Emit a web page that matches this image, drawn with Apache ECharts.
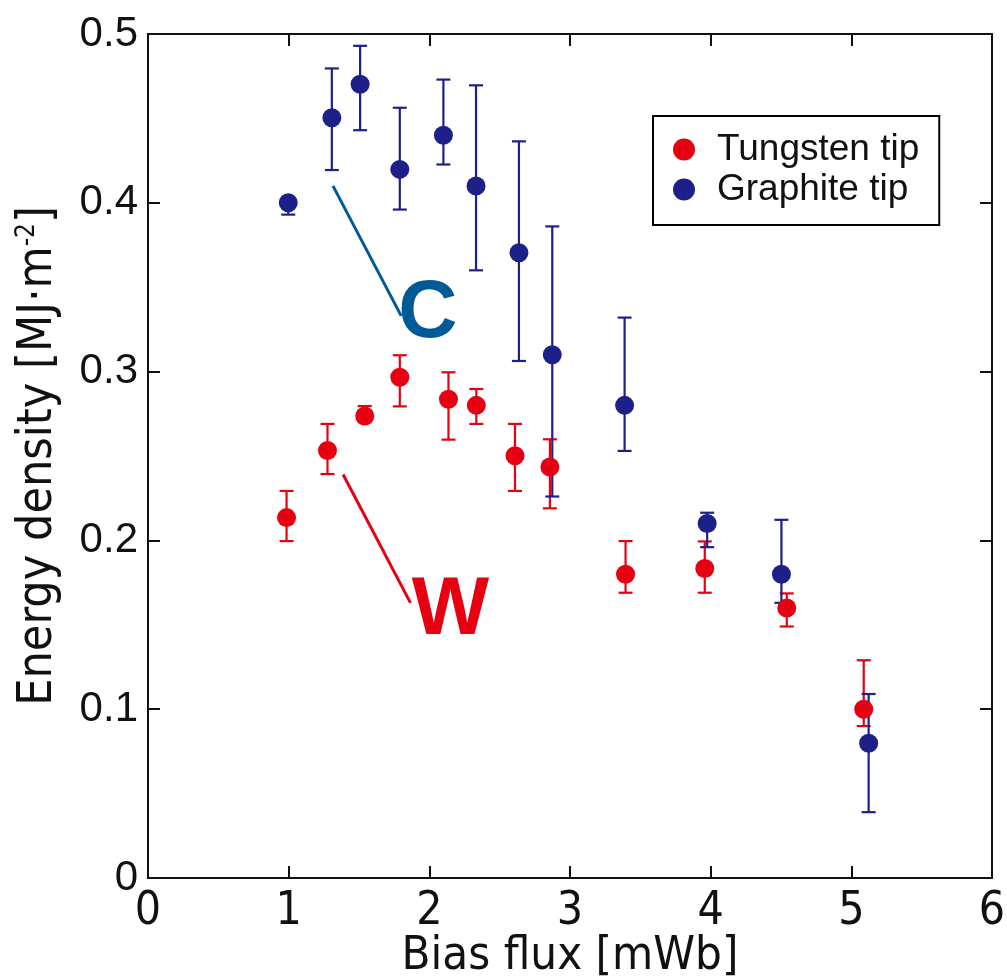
<!DOCTYPE html>
<html>
<head>
<meta charset="utf-8">
<script src="https://cdn.jsdelivr.net/npm/echarts@6/dist/echarts.min.js"></script>
<style>
  html, body { margin: 0; padding: 0; background: #fff; }
  #chart { width: 1007px; height: 976px; }
</style>
</head>
<body>
<div id="chart"></div>
<script>
// Tungsten tip (red)
const fluxW   = [0.985, 1.276, 1.541, 1.790, 2.136, 2.334, 2.609, 2.857, 3.395, 3.958, 4.541, 5.088];
const energyW = [0.2135, 0.2533, 0.2737, 0.2966, 0.2836, 0.280, 0.2502, 0.2435, 0.180, 0.1834, 0.160, 0.100];
const lowW    = [0.1996, 0.2393, 0.2700, 0.2794, 0.2597, 0.269, 0.2293, 0.219, 0.169, 0.169, 0.149, 0.090];
const highW   = [0.2293, 0.2690, 0.2796, 0.3097, 0.2996, 0.2897, 0.2690, 0.2599, 0.1996, 0.1994, 0.1686, 0.129];

// Graphite tip (blue)
const fluxC   = [0.997, 1.307, 1.508, 1.790, 2.100, 2.332, 2.637, 2.874, 3.388, 3.975, 4.503, 5.123];
const energyC = [0.400, 0.4504, 0.4702, 0.4198, 0.440, 0.410, 0.3704, 0.310, 0.280, 0.210, 0.180, 0.0798];
const lowC    = [0.393, 0.4194, 0.443, 0.396, 0.4227, 0.360, 0.3063, 0.226, 0.253, 0.196, 0.163, 0.039];
const highC   = [0.400, 0.4796, 0.493, 0.4563, 0.473, 0.4696, 0.4364, 0.386, 0.332, 0.2164, 0.2122, 0.109];

// annotation leader lines (data coords) and labels
const lineC = [[1.315, 0.410], [1.80, 0.333]];
const lineW = [[1.387, 0.239], [1.866, 0.163]];
const labelC = [1.99, 0.334];
const labelW = [2.15, 0.158];

const RED = '#e60012';
const BLUE = '#1d2088';
const TEAL = '#005a96';

const chart = echarts.init(document.getElementById('chart'));

// 误差棒
const errorBar = (color) => (params, api) => {
  const x = api.value(0);
  const lo = api.coord([x, api.value(1)]);
  const hi = api.coord([x, api.value(2)]);
  const half = 7;
  const style = { stroke: color, lineWidth: 2.2 };
  return {
    type: 'group',
    children: [
      { type: 'line', shape: { x1: lo[0], y1: lo[1], x2: hi[0], y2: hi[1] }, style },
      { type: 'line', shape: { x1: lo[0] - half, y1: lo[1], x2: lo[0] + half, y2: lo[1] }, style },
      { type: 'line', shape: { x1: hi[0] - half, y1: hi[1], x2: hi[0] + half, y2: hi[1] }, style }
    ]
  };
};

const axisFont = 'DejaVu Sans Condensed, Liberation Sans Narrow, sans-serif';
const lineStyleK = { color: '#111', width: 2 };
const frameAxis = (pos) => ({
  type: 'value', position: pos,
  axisLine: { show: true, onZero: false, lineStyle: lineStyleK },
  axisTick: { show: true, inside: true, length: 12, lineStyle: lineStyleK },
  axisLabel: { show: false },
  splitLine: { show: false }
});

chart.setOption({
  animation: false,
  grid: { left: 148, right: 15, top: 34, bottom: 98, containLabel: false, outerBoundsMode: 'none' },
  legend: {
    orient: 'vertical',
    left: 653,
    top: 116,
    data: ['Tungsten tip', 'Graphite tip'],
    icon: 'circle',
    itemWidth: 22,
    itemHeight: 22,
    itemGap: 3,
    borderColor: '#000',
    borderWidth: 2,
    padding: [15, 20, 17, 20],
    textStyle: { fontSize: 37, color: '#111', padding: [0, 0, 0, 17], fontFamily: 'Liberation Sans, sans-serif' }
  },
  xAxis: [
    {
      type: 'value', min: 0, max: 6, interval: 1, position: 'bottom',
      name: 'Bias flux [mWb]', nameLocation: 'middle', nameGap: 55, nameMoveOverlap: false,
      nameTextStyle: { fontSize: 47, color: '#111', fontFamily: axisFont, verticalAlign: 'top' },
      axisLine: { show: true, onZero: false, lineStyle: lineStyleK },
      axisTick: { show: true, inside: true, length: 12, lineStyle: lineStyleK },
      axisLabel: { fontSize: 46, color: '#111', margin: 11, fontFamily: axisFont },
      splitLine: { show: false }
    },
    Object.assign(frameAxis('top'), { min: 0, max: 6, interval: 1 })
  ],
  yAxis: [
    {
      type: 'value', min: 0, max: 0.5, interval: 0.1, position: 'left',
      name: '{t|Energy density [MJ·m}{s|-2}{t|]}', nameLocation: 'middle', nameGap: 84,
      nameTextStyle: {
        rich: {
          t: { fontSize: 48, color: '#111', fontFamily: axisFont },
          s: { fontSize: 26, color: '#111', fontFamily: axisFont, verticalAlign: 'top', padding: [0, 0, 24, 0] }
        }
      },
      axisLine: { show: true, onZero: false, lineStyle: lineStyleK },
      axisTick: { show: true, inside: true, length: 12, lineStyle: lineStyleK },
      axisLabel: {
        fontSize: 42, color: '#111', margin: 10, fontFamily: 'Liberation Sans, sans-serif',
        formatter: (v) => (v === 0 ? '0' : v.toFixed(1))
      },
      splitLine: { show: false }
    },
    Object.assign(frameAxis('right'), { min: 0, max: 0.5, interval: 0.1 })
  ],
  series: [
    {
      name: 'Tungsten err', type: 'custom', z: 2,
      renderItem: errorBar(RED),
      data: fluxW.map((x, i) => [x, lowW[i], highW[i]])
    },
    {
      name: 'Tungsten tip', type: 'scatter', z: 3,
      symbolSize: 19,
      itemStyle: { color: RED, opacity: 1 },
      data: fluxW.map((x, i) => [x, energyW[i]]),
      markLine: {
        silent: true, symbol: 'none',
        lineStyle: { color: RED, width: 3, type: 'solid' },
        label: { show: false },
        data: [[{ coord: lineW[0] }, { coord: lineW[1] }]]
      },
      markPoint: {
        silent: true, symbol: 'circle', symbolSize: 0,
        data: [{ coord: labelW, label: { show: true, formatter: 'W', color: RED, fontSize: 82, fontWeight: 'bold', fontFamily: 'Liberation Sans, sans-serif' } }]
      }
    },
    {
      name: 'Graphite err', type: 'custom', z: 2,
      renderItem: errorBar(BLUE),
      data: fluxC.map((x, i) => [x, lowC[i], highC[i]])
    },
    {
      name: 'Graphite tip', type: 'scatter', z: 3,
      symbolSize: 19,
      itemStyle: { color: BLUE, opacity: 1 },
      data: fluxC.map((x, i) => [x, energyC[i]]),
      markLine: {
        silent: true, symbol: 'none',
        lineStyle: { color: TEAL, width: 3, type: 'solid' },
        label: { show: false },
        data: [[{ coord: lineC[0] }, { coord: lineC[1] }]]
      },
      markPoint: {
        silent: true, symbol: 'circle', symbolSize: 0,
        data: [{ coord: labelC, label: { show: true, formatter: 'C', color: TEAL, fontSize: 82, fontWeight: 'bold', fontFamily: 'Liberation Sans, sans-serif' } }]
      }
    }
  ]
});
</script>
</body>
</html>
